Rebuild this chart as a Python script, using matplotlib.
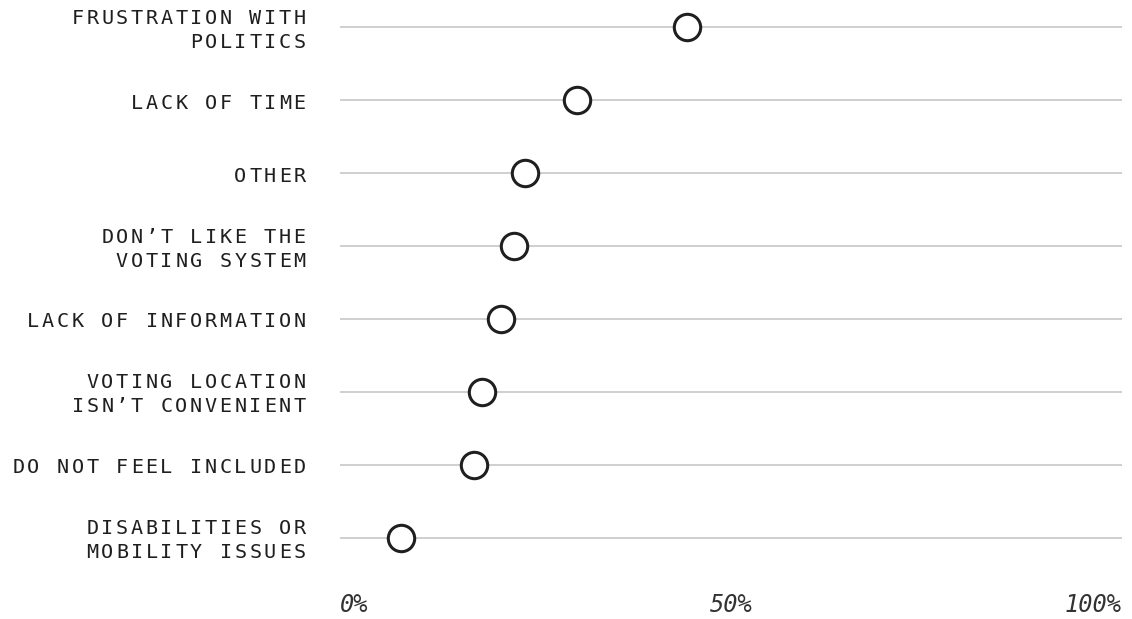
import matplotlib.pyplot as plt

# reasons for not voting, top to bottom
reasons = [
    ['FRUSTRATION WITH', 'POLITICS'],
    ['LACK OF TIME'],
    ['OTHER'],
    ["DON\u2019T LIKE THE", 'VOTING SYSTEM'],
    ['LACK OF INFORMATION'],
    ['VOTING LOCATION', "ISN\u2019T CONVENIENT"],
    ['DO NOT FEEL INCLUDED'],
    ['DISABILITIES OR', 'MOBILITY ISSUES'],
]
shares = [44.4, 30.3, 23.7, 22.3, 20.6, 18.2, 17.1, 7.8]
tick_values = [0, 50, 100]
tick_labels = ['0%', '50%', '100%']

INK = '#1f1f1f'
W, H = 1132, 619

fig = plt.figure(figsize=(W / 100, H / 100), dpi=100)
ax = fig.add_axes([340 / W, (H - 565) / H, (1122 - 340) / W, 565 / H])

rows = list(range(len(shares)))
for r in rows:
    ax.axhline(r, color='#cccccc', lw=1.3, zorder=1)
ax.scatter(shares, rows, s=19 ** 2, facecolor='white', edgecolor=INK,
           linewidth=2.2, zorder=3)

ax.set_xlim(0, 100)
ax.set_ylim(len(shares) - 1 + 0.37, -0.37)


def spaced_label(lines, y, pitch=14.8, right=-33, gap=24):
    # matplotlib has no letter spacing, so place each character by hand
    n = len(lines)
    for k, line in enumerate(lines):
        dy = (n - 1) * gap / 2 - k * gap
        for i, ch in enumerate(line):
            dx = right - (len(line) - 1 - i + 0.5) * pitch
            ax.annotate(ch, xy=(0, y), xycoords=('axes fraction', 'data'),
                        xytext=(dx, dy - 3), textcoords='offset pixels',
                        ha='center', va='center', fontsize=14.5,
                        family='DejaVu Sans Mono', color=INK)


for r, lines in zip(rows, reasons):
    spaced_label(lines, r)

ax.set_xticks(tick_values, tick_labels)
for lab, ha in zip(ax.get_xticklabels(), ['left', 'center', 'right']):
    lab.set_ha(ha)
    lab.set_family('DejaVu Sans Mono')
    lab.set_style('italic')
    lab.set_fontsize(17)
    lab.set_color('#333333')
ax.tick_params(axis='x', length=0, pad=20)
ax.set_yticks([])
for s in ax.spines.values():
    s.set_visible(False)

fig.savefig('out.png', dpi=100)
